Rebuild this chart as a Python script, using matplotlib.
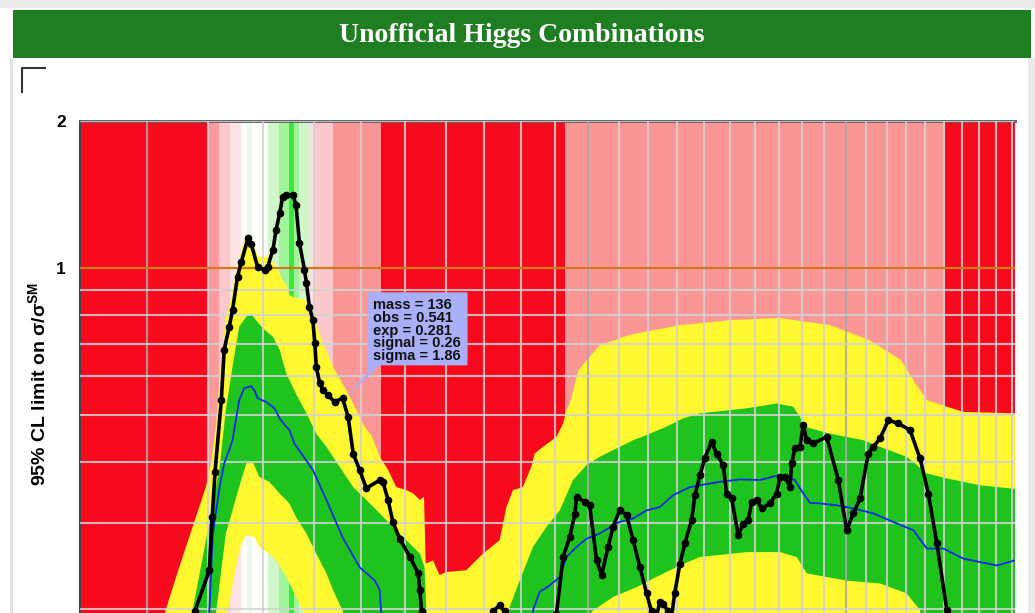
import numpy as np
import matplotlib.pyplot as plt
from matplotlib.patches import Rectangle, Polygon
from matplotlib.ticker import NullLocator, FixedLocator

plt.rcParams['font.family'] = ['Liberation Sans', 'DejaVu Sans']
plt.rcParams['mathtext.fontset'] = 'custom'
plt.rcParams['mathtext.bf'] = 'Liberation Sans:bold'
plt.rcParams['mathtext.rm'] = 'Liberation Sans'

# background exclusion stripes (mass edges, GeV)
stripe_edges = [90, 110, 112, 114, 116, 117, 118, 121, 123, 125, 126, 127, 129,
                130, 134, 144.5, 193, 351, 391.6]
stripe_colors = ['#f80a1e', '#fa9a9a', '#fbc8cc', '#fde4e4', '#ffffff', '#eafbe6',
                 '#ffffff', '#d0f7cc', '#a0f59a', '#3ce63c', '#a0f59a', '#d0f7cc',
                 '#fbe0e0', '#fbc8cc', '#fa9696', '#f80a1e', '#fa9696', '#f80a1e']

# observed limit
obs_mass = [100, 106.5, 107.8, 110.3, 110.8, 111.3, 112.4, 112.9, 113.8, 114.4, 115.3,
            116.0, 117.2, 117.8, 119.0, 120.3, 120.9, 121.9, 122.5, 123.2, 123.8, 124.5,
            125.8, 126.4, 127.1, 128.1, 128.5, 129.1, 129.8, 130.2, 130.5, 131.2, 131.9,
            132.9, 134.3, 136.0, 137.2, 138.3, 139.7, 141.2, 144.2, 144.9, 146.1, 147.2,
            148.8, 151.2, 153.2, 153.6, 154.0, 156, 165, 170, 172.3, 174.1, 175.5, 178,
            186, 190.4, 192.4, 194.4, 196.0, 196.5, 199.1, 200.6, 202.8, 204.4, 206.5,
            208.1, 210.3, 212.6, 214.8, 217.1, 219.4, 221.1, 222.5, 224.0, 225.2, 226.9,
            228, 229.3, 231.2, 233.0, 235.5, 236.7, 238.6, 240.4, 243.0, 244.9, 247.5,
            248.8, 250.8, 253.4, 255.4, 257.4, 258.8, 260.8, 262.9, 266.4, 269.2, 270.6,
            272.7, 274.9, 275.6, 277.0, 279.2, 280.7, 282.2, 285.1, 291.2, 296.6, 300.5,
            303.7, 306.9, 310.9, 313.4, 316.7, 320.9, 326.0, 332.0, 337.3, 341.7, 346.3,
            351.8, 356, 391.6]
obs_val = [0.15, 0.17, 0.198, 0.2405, 0.309, 0.383, 0.536, 0.679, 0.758, 0.82, 0.96,
           1.03, 1.15, 1.12, 1.006, 0.991, 1.006, 1.089, 1.196, 1.294, 1.40, 1.411,
           1.411, 1.346, 1.124, 0.991, 0.93, 0.833, 0.782, 0.702, 0.628, 0.581, 0.562,
           0.549, 0.532, 0.541, 0.496, 0.417, 0.386, 0.354, 0.368, 0.365, 0.335, 0.302,
           0.279, 0.256, 0.237, 0.219, 0.198, 0.17, 0.15, 0.17, 0.198, 0.204, 0.198, 0.17,
           0.16, 0.196, 0.256, 0.281, 0.314, 0.340, 0.332, 0.327, 0.252, 0.235, 0.2685,
           0.295, 0.319, 0.312, 0.277, 0.244, 0.2156, 0.198, 0.19, 0.207, 0.2055, 0.198,
           0.19, 0.2156, 0.248, 0.273, 0.3045, 0.3425, 0.3765, 0.4074, 0.4405, 0.417, 0.3947,
           0.3453, 0.3374, 0.2837, 0.2998, 0.3045, 0.332, 0.335, 0.3219, 0.3295, 0.3453, 0.3736,
           0.3736, 0.3563, 0.398, 0.427, 0.4303, 0.4768, 0.444, 0.4373, 0.451, 0.368, 0.2905,
           0.3144, 0.3374, 0.417, 0.4303, 0.4478, 0.488, 0.4805, 0.4656, 0.4074, 0.3453, 0.273,
           0.1992, 0.16, 0.15]

# expected median
exp_mass = [100, 109.8, 110.3, 110.9, 112.1, 112.9, 113.8, 114.4, 115.0, 115.6, 116.5,
            117.8, 118.4, 119.0, 120.6, 122.2, 123.2, 124.5, 125.1, 126.1, 129.8, 132.6,
            136.0, 139.7, 143.1, 144.2, 144.5, 146, 170, 182.5, 183.5, 185.4, 188.4, 191.4,
            193.4, 196.5, 199.6, 203.8, 208.1, 210.3, 214.8, 219.4, 224.0, 228.7, 234.8,
            238.6, 246.2, 254.1, 262.2, 266.4, 269.9, 273.4, 277.0, 280.7, 283.7, 288.2,
            295.8, 303.7, 313.4, 323.4, 333.7, 340.9, 349.9, 361.1, 380.6, 391.6]
exp_val = [0.15, 0.17, 0.198, 0.286, 0.356, 0.398, 0.424, 0.444, 0.488, 0.536, 0.567,
           0.573, 0.562, 0.541, 0.532, 0.516, 0.492, 0.473, 0.466, 0.437, 0.386, 0.335,
           0.281, 0.244, 0.229, 0.219, 0.198, 0.17, 0.15, 0.17, 0.199, 0.217, 0.224, 0.233,
           0.256, 0.2685, 0.279, 0.286, 0.297, 0.302, 0.307, 0.319, 0.324, 0.3425, 0.356,
           0.359, 0.365, 0.369, 0.368, 0.3725, 0.3765, 0.3736, 0.368, 0.3453, 0.3304, 0.3295,
           0.3268, 0.3219, 0.3144, 0.302, 0.2905, 0.2664, 0.2664, 0.254, 0.246, 0.252]

# +1 sigma / -1 sigma edges
g_hi_mass = [90, 106.5, 107.4, 110.6, 112.1, 113.2, 114.4, 115.6, 116.9, 117.8, 118.7,
             120.0, 121.9, 123.2, 124.5, 126.4, 128.5, 130.5, 132.6, 135.4, 138.3, 141.2,
             144.2, 147.2, 150.4, 153.6, 154.7, 155.2, 156, 176, 176.9, 179.7, 183.5,
             187.4, 191.4, 195.4, 199.6, 203.8, 210.3, 214.8, 220.5, 226.3, 232.3, 238.6,
             243.6, 256.8, 269.2, 276.3, 279.2, 281.4, 292.7, 308.5, 316.7, 330.3, 340.9,
             351.8, 370.7, 391.6]
g_hi = [0.17, 0.17, 0.198, 0.3144, 0.3915, 0.512, 0.628, 0.758, 0.795, 0.805, 0.782,
        0.752, 0.723, 0.679, 0.608, 0.553, 0.504, 0.458, 0.4303, 0.3915, 0.356, 0.335,
        0.3144, 0.295, 0.277, 0.26, 0.244, 0.198, 0.17, 0.17, 0.2023, 0.229, 0.2685,
        0.295, 0.319, 0.368, 0.3947, 0.4106, 0.4303, 0.444, 0.458, 0.473, 0.492, 0.504,
        0.5075, 0.516, 0.528, 0.52, 0.496, 0.473, 0.458, 0.444, 0.4303, 0.4106, 0.3796,
        0.3708, 0.359, 0.353]
g_lo_mass = [90, 111.0, 111.5, 113.2, 115.6, 116.9, 118.1, 119.3, 121.2, 123.2, 125.1,
             126.4, 128.5, 130.5, 132.6, 134.0, 136.1, 137, 200, 201.2, 208.1, 215.9,
             222.8, 231.2, 238.6, 256.8, 270.6, 277.8, 282.2, 300.5, 316.7, 330.3, 337.3,
             339, 391.6]
g_lo = [0.12, 0.15, 0.198, 0.286, 0.356, 0.398, 0.401, 0.3736, 0.365, 0.3453, 0.3295,
        0.3093, 0.286, 0.26, 0.237, 0.219, 0.198, 0.15, 0.15, 0.198, 0.212, 0.222,
        0.233, 0.246, 0.256, 0.262, 0.262, 0.256, 0.237, 0.229, 0.226, 0.2156, 0.1992,
        0.15, 0.12]

# +2 sigma / -2 sigma edges
y_hi_mass = [90, 101, 102.8, 105.2, 109.7, 110.6, 111.5, 112.4, 113.2, 114.1, 114.7,
             116.5, 117.8, 118.7, 119.0, 120.9, 121.9, 122.5, 123.2, 123.8, 124.5, 125.1,
             126.1, 128.5, 130.2, 131.9, 134.0, 136.8, 139.0, 140.8, 142.3, 144.2, 146.1,
             148.0, 150.4, 152.0, 153.6, 154.6, 155.0, 156.8, 158.4, 160.1, 165.2, 169.6,
             174.1, 176.0, 177.8, 180.6, 183.0, 184.0, 186.4, 190.4, 192.4, 193.4, 194.4,
             197.1, 203.8, 213.7, 231.2, 250, 270.6, 292.7, 311.5, 327.3, 333.7, 340.9,
             351.8, 361.1, 391.6]
y_hi = [0.17, 0.17, 0.196, 0.244, 0.356, 0.398, 0.4805, 0.658, 0.795, 0.860, 0.945,
        1.141, 1.132, 1.089, 1.055, 1.055, 1.030, 1.006, 0.975, 0.945, 0.923, 0.88,
        0.87, 0.86, 0.782, 0.702, 0.628, 0.562, 0.512, 0.473, 0.455, 0.4106, 0.386,
        0.356, 0.3508, 0.3453, 0.335, 0.34, 0.248, 0.252, 0.235, 0.2385, 0.2405, 0.26,
        0.277, 0.324, 0.3508, 0.356, 0.3915, 0.417, 0.4303, 0.451, 0.4805, 0.512, 0.527,
        0.618, 0.695, 0.73, 0.764, 0.782, 0.79, 0.764, 0.712, 0.648, 0.59, 0.536,
        0.52, 0.5075, 0.504]
y_lo_mass = [90, 113.0, 113.5, 115.0, 116.0, 116.9, 118.4, 119.3, 121.2, 122.5, 124.5,
             126.1, 127.8, 128.5, 391.6]
y_lo = [0.1, 0.17, 0.196, 0.244, 0.273, 0.2837, 0.2814, 0.2685, 0.26, 0.252, 0.233,
        0.2156, 0.198, 0.17, 0.1]

grid_mass = list(range(100, 400, 10))
grid_val = [0.2, 0.3, 0.4, 0.5, 0.6, 0.7, 0.8, 0.9, 2]

W, H = 1035, 613
fig = plt.figure(figsize=(W / 100, H / 100), dpi=100)

# page furniture drawn in pixel coordinates
bg = fig.add_axes([0, 0, 1, 1])
bg.set_xlim(0, W)
bg.set_ylim(H, 0)
bg.axis('off')
bg.add_patch(Rectangle((0, 0), W, 8, color='#ebebeb', lw=0))
bg.add_patch(Rectangle((13, 10), 1018, 48, color='#207e22', lw=0))
bg.text(522, 35, 'Unofficial Higgs Combinations', ha='center', va='center',
        color='white', fontsize=20, fontweight='bold', family='Liberation Serif')
bg.plot([22, 22, 45], [92, 68, 68], color='#333333', lw=1.5)
bg.add_patch(Rectangle((10, 58), 3, H - 58, color='#e4e4e4', lw=0))
bg.add_patch(Rectangle((1028, 58), 7, H - 58, color='#ebebeb', lw=0))
bg.text(39, 384, r'95% CL limit on σ/σ$^{\mathbf{SM}}$', rotation=90, ha='center',
        va='center', fontsize=14, fontweight='bold')

ax = fig.add_axes([80 / W, 0, 935 / W, 492 / H])
ax.set_xscale('log')
ax.set_yscale('log')
ax.set_xlim(90, 391.6)
ax.set_ylim(0.1966, 2)

for i in range(len(stripe_colors)):
    ax.axvspan(stripe_edges[i], stripe_edges[i + 1], color=stripe_colors[i], lw=0, zorder=0)

ax.fill(np.r_[y_hi_mass, y_lo_mass[::-1]], np.r_[y_hi, y_lo[::-1]],
        color='#fff830', lw=0, zorder=1)
ax.fill(np.r_[g_hi_mass, g_lo_mass[::-1]], np.r_[g_hi, g_lo[::-1]],
        color='#1ec31e', lw=0, zorder=2)

for m in grid_mass:
    c = '#a8a8a8' if m % 100 == 0 else '#d2d2d2'
    ax.axvline(m, color=c, lw=1.5, alpha=0.85, zorder=3)
for v in grid_val:
    ax.axhline(v, color='#d2d2d2', lw=1.5, alpha=0.85, zorder=3)
ax.axhline(1, color='#d2781e', lw=1.6, zorder=3.5)

ax.plot(exp_mass, exp_val, color='#0a28e6', lw=1.3, zorder=4)
ax.plot(obs_mass, obs_val, color='black', lw=2.6, marker='o', ms=4.5, zorder=5)

ax.xaxis.set_major_locator(NullLocator())
ax.xaxis.set_minor_locator(NullLocator())
ax.yaxis.set_major_locator(FixedLocator([1, 2]))
ax.yaxis.set_minor_locator(NullLocator())
ax.set_yticklabels(['1', '2'], fontsize=12.5, fontweight='bold')
ax.tick_params(axis='y', length=0, pad=10)
for s in ['right', 'bottom']:
    ax.spines[s].set_visible(False)
ax.spines['left'].set_color('#444444')
ax.spines['top'].set_color('#555555')
ax.spines['left'].set_linewidth(1.5)
ax.spines['top'].set_linewidth(2)

# hover box for the point at 136 GeV
fig.canvas.draw()
px, py = ax.transData.transform((136, 0.541))
py = H - py
top = fig.add_axes([0, 0, 1, 1])
top.set_xlim(0, W)
top.set_ylim(H, 0)
top.axis('off')
bx, by = px + 25, py - 106
top.add_patch(Polygon([(bx, by), (bx + 100, by), (bx + 100, by + 73), (bx + 12, by + 73),
                       (px + 2, py + 1), (bx, by + 80)], closed=True,
                      color='#aab0f8', lw=0))
lines = ['mass = 136', 'obs = 0.541', 'exp = 0.281', 'signal = 0.26', 'sigma = 1.86']
for i, t in enumerate(lines):
    top.text(bx + 5, by + 13 + 12.7 * i, t, fontsize=10.5, fontweight='bold',
             va='center', ha='left', color='#111111')

fig.savefig('out.png', dpi=100)
